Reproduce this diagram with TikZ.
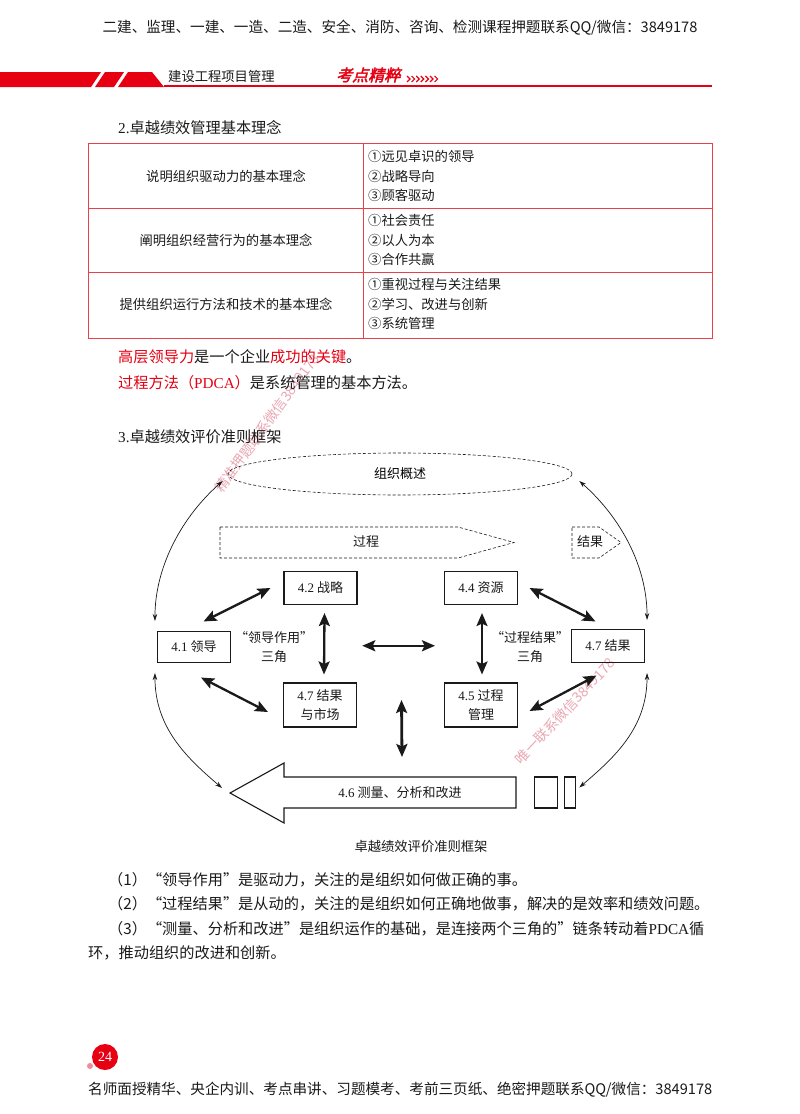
\documentclass[tikz,border=0pt]{standalone}
\usepackage{fontspec}
\setmainfont{Noto Sans CJK SC}
\newfontfamily\latfont{Liberation Serif}
\newfontfamily\brushfont[FakeSlant=0.25,FakeBold=2.5]{Noto Sans CJK SC}
\usetikzlibrary{arrows.meta,positioning,calc,shapes.geometric}
\definecolor{pgRed}{HTML}{E60012}
\definecolor{pgRule}{HTML}{E8414A}
\definecolor{pgInk}{HTML}{1A1A1A}
\definecolor{pgMark}{HTML}{EAA7B2}
\newcommand{\lat}[1]{{\latfont #1}}
\tikzset{
  body/.style={font=\fontsize{15.2}{19}\selectfont,anchor=west,inner sep=0pt,text=pgInk},
  note/.style={font=\fontsize{13.3}{19.5}\selectfont,inner sep=0pt,text=pgInk,align=center},
  cell/.style={note,align=left,anchor=west},
  stamp/.style={font=\fontsize{14}{16}\selectfont,text=pgMark,inner sep=0pt},
  crit/.style={draw=pgInk,line width=1.1pt,minimum width=73pt,minimum height=33pt,
    inner sep=2pt,align=center,text=pgInk,font=\fontsize{13}{19}\selectfont},
  flowline/.style={draw=pgInk,line width=.6pt,dash pattern=on 3pt off 2pt},
  duplex/.style={{Stealth[length=13pt,width=11pt,inset=2.5pt]}-{Stealth[length=13pt,width=11pt,inset=2.5pt]},
    draw=pgInk,line width=2.3pt},
  orbit/.style={{Stealth[length=7pt,width=4.5pt]}-{Stealth[length=7pt,width=4.5pt]},
    draw=pgInk,line width=.7pt},
}
\begin{document}
\begin{tikzpicture}[x=1pt,y=-1pt]
  \useasboundingbox (0,0) rectangle (800,1114);
  \fill[white] (0,0) rectangle (800,1114);
  \node[stamp,rotate=54] (wmA) at (267,423) {精准押题联系微信3849178};
  \node[stamp,rotate=47] (wmB) at (565,711) {唯一联系微信3849178};

  \node[note,font=\fontsize{14.6}{17}\selectfont] (topline) at (400,28)
    {二建、监理、一建、一造、二造、安全、消防、咨询、检测课程押题联系QQ/微信：3849178};
  \fill[pgRed] (0,72) -- (101,72) -- (91,87) -- (0,87) -- cycle;
  \fill[pgRed] (105,72) -- (124,72) -- (114,87) -- (95,87) -- cycle;
  \fill[pgRed] (128,72) -- (152,72) -- (164,87) -- (118,87) -- cycle;
  \fill[pgRed] (164,85) rectangle (712,87);
  \node[note,anchor=west] (book) at (168,76) {建设工程项目管理};
  \node[inner sep=0pt,anchor=west,text=pgRed,font=\brushfont\fontsize{16}{18}\selectfont] (brand) at (336,75) {考点精粹};
  \foreach \i in {0,...,6}
    \draw[pgRed,line width=1.2pt] ({407+4.6*\i},76) -- ({410+4.6*\i},79) -- ({407+4.6*\i},82);

  \node[body] (sec2) at (118,128) {\lat{2.}卓越绩效管理基本理念};
  \draw[pgRule,line width=1pt] (88,143) rectangle (712,338);
  \draw[pgRule,line width=1pt] (88,208) -- (712,208) (88,272) -- (712,272) (363,143) -- (363,338);
  \node[note] (rowA) at (226,176) {说明组织驱动力的基本理念};
  \node[note] (rowB) at (226,240) {阐明组织经营行为的基本理念};
  \node[note] (rowC) at (226,304) {提供组织运行方法和技术的基本理念};
  \node[cell] (itemA) at (368,176) {①远见卓识的领导\\②战略导向\\③顾客驱动};
  \node[cell] (itemB) at (368,240) {①社会责任\\②以人为本\\③合作共赢};
  \node[cell] (itemC) at (368,304) {①重视过程与关注结果\\②学习、改进与创新\\③系统管理};
  \node[body] (keyA) at (118,357) {\textcolor{pgRed}{高层领导力}是一个企业\textcolor{pgRed}{成功的关键}。};
  \node[body] (keyB) at (118,383) {\textcolor{pgRed}{过程方法（\lat{PDCA}）}是系统管理的基本方法。};
  \node[body] (sec3) at (118,437) {\lat{3.}卓越绩效评价准则框架};

  \node[ellipse,draw=pgInk,line width=.6pt,dash pattern=on 3pt off 2pt,minimum width=344pt,
    minimum height=42pt,inner sep=0pt,font=\fontsize{13}{15}\selectfont] (org) at (400,474) {组织概述};
  \draw[flowline] (220,527) -- (458,527) -- (514,542.5) -- (458,558) -- (220,558) -- cycle;
  \node[note,font=\fontsize{13}{15}\selectfont] (proc) at (366,542) {过程};
  \draw[flowline] (572,527) -- (599,527) -- (621,542.5) -- (599,558) -- (572,558) -- cycle;
  \node[note,font=\fontsize{13}{15}\selectfont] (outc) at (590,542) {结果};
  \node[crit] (strat) at (320.5,588) {\lat{4.2} 战略};
  \node[crit] (res) at (481,588) {\lat{4.4} 资源};
  \node[crit,minimum height=31pt] (lead) at (194,647) {\lat{4.1} 领导};
  \node[crit] (resl) at (608,646) {\lat{4.7} 结果};
  \node[crit,minimum height=44pt] (mkt) at (320,705) {\lat{4.7} 结果\\与市场};
  \node[crit,minimum height=44pt] (pm) at (481,705) {\lat{4.5} 过程\\管理};
  \node[note,font=\fontsize{13}{19}\selectfont] (triL) at (274,647) {“领导作用”\\三角};
  \node[note,font=\fontsize{13}{19}\selectfont] (triR) at (530,647) {“过程结果”\\三角};
  \draw[line width=1.1pt,draw=pgInk] (516,777) -- (284,777) -- (284,763) -- (230,793)
    -- (284,823) -- (284,808) -- (516,808) -- cycle;
  \coordinate (mtip) at (230,793);
  \node[note,font=\fontsize{13}{15}\selectfont] (meas) at (400,793) {\lat{4.6} 测量、分析和改进};
  \node[draw=pgInk,line width=1.1pt,minimum width=23.5pt,minimum height=31pt,inner sep=0pt] (sqA) at (546,792.5) {};
  \node[draw=pgInk,line width=1.1pt,minimum width=11.5pt,minimum height=31pt,inner sep=0pt] (sqB) at (570,792.5) {};

  \draw[duplex] ($(lead.north east)+(-27.5,-9.5)$) -- ($(strat.west)+(-13,0)$);
  \draw[duplex] ($(res.east)+(11.5,0)$) -- ($(resl.north west)+(24.5,-7.5)$);
  \draw[duplex] ($(lead.south east)+(-30,14.5)$) -- ($(mkt.west)+(-15,7)$);
  \draw[duplex] ($(pm.east)+(11.5,6)$) -- ($(resl.south west)+(25.5,12.5)$);
  \draw[duplex] ($(strat.south)+(4,8)$) -- ($(mkt.north)+(4,-8)$);
  \draw[duplex] ($(res.south)+(1,8)$) -- ($(pm.north)+(1,-8)$);
  \coordinate (hzL) at ($(strat.south)!.5!(mkt.north)+(42,2)$);
  \coordinate (hzR) at ($(res.south)!.5!(pm.north)+(-46,2)$);
  \draw[duplex] (hzL) -- (hzR);
  \draw[duplex,line width=2.8pt] ($(mkt.east)!.5!(pm.west)+(1,-5)$) -- ($(meas)+(2,-36)$);

  \coordinate (ovL) at ($(org.west)+(-5,7)$);
  \coordinate (ovR) at ($(org.east)+(7,7)$);
  \draw[orbit] (ovL) .. controls +(-40,35) and +(0,-55) .. ($(lead.north west)+(-2,-10)$);
  \draw[orbit] (ovR) .. controls +(40,35) and +(0,-55) .. ($(resl.north east)+(2,-9)$);
  \draw[orbit] ($(lead.south west)+(-2,10)$) .. controls +(0,55) and +(-35,-30) .. ($(mtip)+(-8,-5)$);
  \draw[orbit] ($(resl.south east)+(2,10)$) .. controls +(0,55) and +(35,-30) .. ($(sqB.east)+(3,-5)$);

  \node[note] (cap) at (421,846) {卓越绩效评价准则框架};
  \node[body] (parA) at (108,880) {（1）“领导作用”是驱动力，关注的是组织如何做正确的事。};
  \node[body] (parB) at (108,904) {（2）“过程结果”是从动的，关注的是组织如何正确地做事，解决的是效率和绩效问题。};
  \node[body] (parC) at (108,929) {（3）“测量、分析和改进”是组织运作的基础，是连接两个三角的"链条转动着\lat{PDCA}循};
  \node[body] (parD) at (88,953) {环，推动组织的改进和创新。};

  \fill[pgRed!45] (90,1066) circle (3);
  \fill[pgRed] (105,1057) circle (13);
  \node[inner sep=0pt,text=white,font=\latfont\fontsize{14}{16}\selectfont] (pgno) at (105,1057) {24};
  \node[note,anchor=west,font=\fontsize{14.6}{17}\selectfont] (botline) at (88,1090)
    {名师面授精华、央企内训、考点串讲、习题模考、考前三页纸、绝密押题联系QQ/微信：3849178};
\end{tikzpicture}
\end{document}
